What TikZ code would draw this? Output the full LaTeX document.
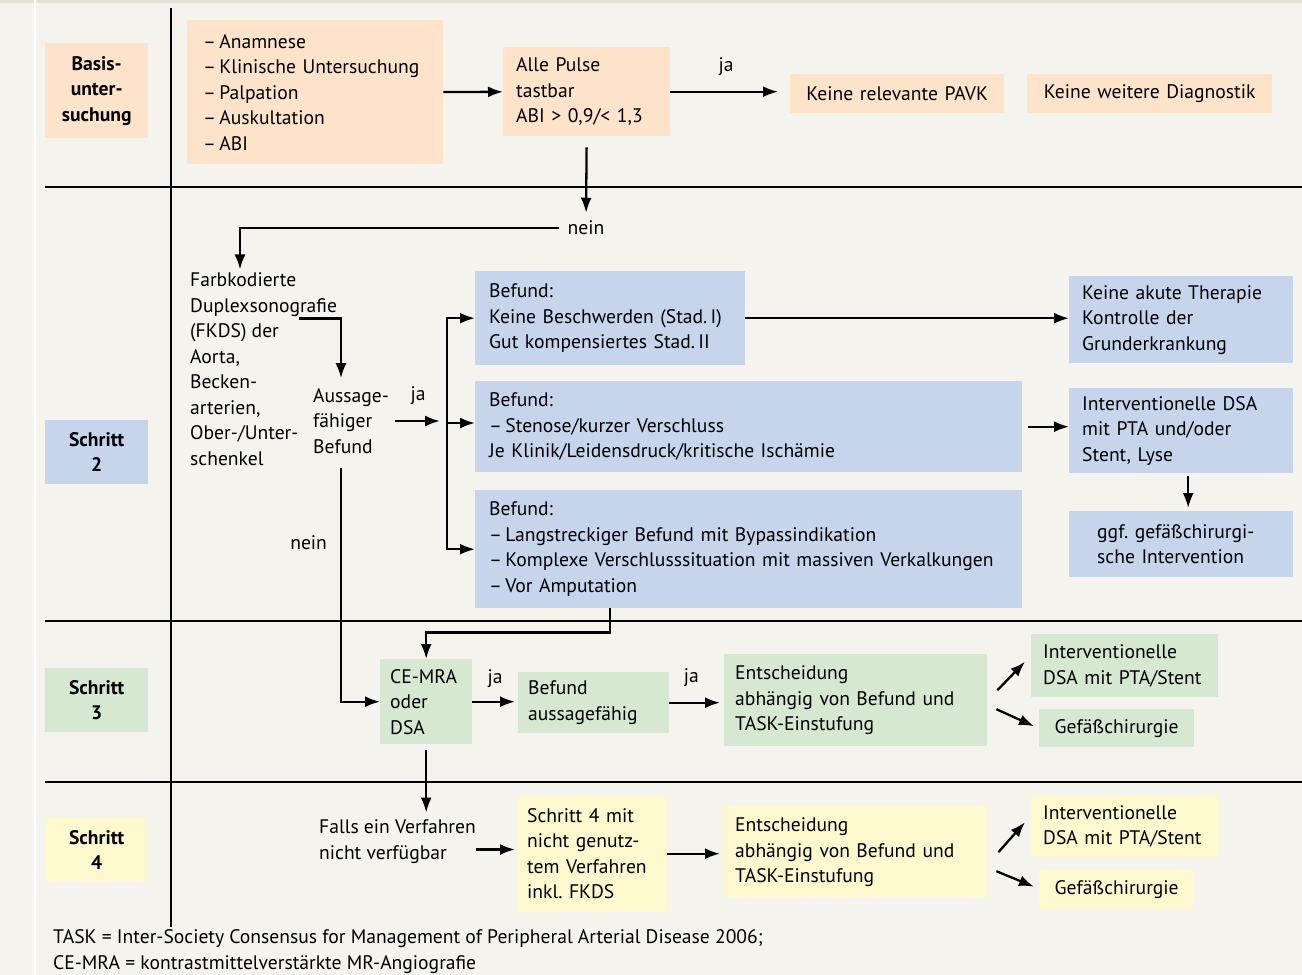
\documentclass[tikz,border=0pt]{standalone}
\usepackage{fontspec}
\setmainfont{PT Sans}
\usetikzlibrary{arrows.meta}
\frenchspacing

\definecolor{bgcream}{HTML}{F4F3ED}
\definecolor{bgstrip}{HTML}{E2E2D8}
\definecolor{peach}{HTML}{FDE3C9}
\definecolor{lightblue}{HTML}{C6D5EC}
\definecolor{lightgreen}{HTML}{D6E8D1}
\definecolor{lightyellow}{HTML}{FEF8CE}

\begin{document}
\begin{tikzpicture}[
  x=1pt, y=-1pt,
  every node/.style={font=\fontsize{19.6}{25.5}\selectfont, inner sep=0pt},
  box/.style={anchor=north west, inner xsep=12pt, inner ysep=0pt, align=left},
  orbox/.style={box, fill=peach},
  blbox/.style={box, fill=lightblue},
  grbox/.style={box, fill=lightgreen},
  yebox/.style={box, fill=lightyellow},
  lab/.style={anchor=north west, text width=103pt, align=center,
    font=\fontsize{19.6}{25.5}\selectfont\bfseries},
  txt/.style={anchor=west, align=left},
  jalab/.style={midway, yshift=25pt},
  arr/.style={-{Latex[length=15pt, width=11pt]}, line width=2.3pt},
  sep/.style={line width=2.5pt}
]
  % background
  \fill[bgcream] (0,0) rectangle (1302,975);
  \fill[bgstrip] (0,0) rectangle (1302,3);
  \fill[white] (34,0) rectangle (36,975);
  \useasboundingbox (0,0) rectangle (1302,975);

  % grid lines
  \draw[sep] (171,8) -- (171,927);
  \draw[sep] (45,187) -- (1302,187);
  \draw[sep] (45,621) -- (1302,621);
  \draw[sep] (45,782) -- (1302,782);

  % left column
  \node[lab, fill=peach, minimum height=95pt] (basis) at (45,43) {Basis-\\unter-\\suchung};
  \node[lab, fill=lightblue, minimum height=64pt] (schritt2) at (45,420) {Schritt\\2};
  \node[lab, fill=lightgreen, minimum height=64pt] (schritt3) at (45,668) {Schritt\\3};
  \node[lab, fill=lightyellow, minimum height=64pt] (schritt4) at (45,818) {Schritt\\4};

  % Basisuntersuchung
  \node[orbox, inner xsep=16pt, text width=224pt, minimum height=144pt] (liste) at (187,20)
    {–\,Anamnese\\–\,Klinische Untersuchung\\–\,Palpation\\–\,Auskultation\\–\,ABI};
  \node[orbox, inner xsep=13pt, text width=141pt, minimum height=89pt] (pulse) at (503,47)
    {Alle Pulse\\tastbar\\ABI > 0,9/< 1,3};
  \node[orbox, text width=190pt, align=center, minimum height=39pt] (pavk) at (790,74)
    {Keine relevante PAVK};
  \node[orbox, text width=221pt, align=center, minimum height=39pt] (keinediag) at (1027,74)
    {Keine weitere Diagnostik};

  % Schritt 2
  \node[txt, anchor=center] (nein1) at (586,228) {nein};
  \node[txt] (fkds) at (190,369) {Farbkodierte\\Duplexsonografie\\(FKDS) der\\Aorta,\\Becken-\\arterien,\\Ober-/Unter-\\schenkel};
  \node[txt] (aussage) at (313,421) {Aussage-\\fähiger\\Befund};
  \coordinate (split) at (447,423);

  \node[blbox, inner xsep=14pt, text width=242pt, minimum height=94pt] (befA) at (475,271)
    {Befund:\\Keine Beschwerden (Stad.\,I)\\Gut kompensiertes Stad.\,II};
  \node[blbox, inner xsep=14pt, text width=519pt, minimum height=91pt] (befB) at (475,381)
    {Befund:\\–\,Stenose/kurzer Verschluss\\Je Klinik/Leidensdruck/kritische Ischämie};
  \node[blbox, inner xsep=14pt, text width=519pt, minimum height=118pt] (befC) at (475,490)
    {Befund:\\–\,Langstreckiger Befund mit Bypassindikation\\–\,Komplexe Verschlusssituation mit massiven Verkalkungen\\–\,Vor Amputation};
  \node[blbox, inner xsep=13pt, text width=198pt, minimum height=87pt] (therapie) at (1069,276)
    {Keine akute Therapie\\Kontrolle der\\Grunderkrankung};
  \node[blbox, inner xsep=13pt, text width=198pt, minimum height=85pt] (interv) at (1069,388)
    {Interventionelle DSA\\mit PTA und/oder\\Stent, Lyse};
  \node[blbox, inner xsep=28pt, text width=168pt, minimum height=66pt] (gefchir) at (1069,511)
    {ggf. gefäßchirurgi-\\sche Intervention};

  % Schritt 3
  \node[grbox, inner xsep=10pt, text width=72pt, minimum height=85pt] (cemra) at (380,659)
    {CE-MRA\\oder\\DSA};
  \node[grbox, inner xsep=10pt, text width=131pt, minimum height=61pt] (befaus) at (518,672)
    {Befund\\aussagefähig};
  \node[grbox, inner xsep=11pt, text width=241pt, minimum height=92pt] (entsch3) at (724,654)
    {Entscheidung\\abhängig von Befund und\\TASK-Einstufung};
  \node[grbox, inner xsep=12pt, text width=163pt, minimum height=63pt] (interv3) at (1031,634)
    {Interventionelle\\DSA mit PTA/Stent};
  \node[grbox, text width=131pt, align=center, minimum height=38pt] (gef3) at (1039,709)
    {Gefäßchirurgie};

  % Schritt 4
  \node[txt] (falls) at (319,841.5) {Falls ein Verfahren\\nicht verfügbar};
  \node[yebox, inner xsep=10pt, text width=130pt, minimum height=117pt] (schritt4m) at (517,795)
    {Schritt 4 mit\\nicht genutz-\\tem Verfahren\\inkl. FKDS};
  \node[yebox, inner xsep=11pt, text width=241pt, minimum height=92pt] (entsch4) at (724,806)
    {Entscheidung\\abhängig von Befund und\\TASK-Einstufung};
  \node[yebox, inner xsep=12pt, text width=164pt, minimum height=62pt] (interv4) at (1031,795)
    {Interventionelle\\DSA mit PTA/Stent};
  \node[yebox, text width=131pt, align=center, minimum height=39pt] (gef4) at (1039,870)
    {Gefäßchirurgie};

  \node[txt] (footnote) at (53,951.5)
    {TASK = Inter-Society Consensus for Management of Peripheral Arterial Disease 2006;\\CE-MRA = kontrastmittelverstärkte MR-Angiografie};

  % connectors
  \draw[arr] (liste) -- (pulse);
  \draw[arr, shorten >=12pt] (pulse.east) -- (pulse.east -| pavk.west) node[jalab, xshift=-4pt] {ja};
  \draw[arr, shorten <=11pt, shorten >=8pt] (pulse.south) -- (nein1.north);
  \draw[arr, shorten <=8pt, shorten >=3pt] (nein1.west) -| ([xshift=50pt]fkds.north west);
  \draw[arr, shorten >=10pt] ([shift={(109pt,-46pt)}]fkds.north west) -| ([xshift=28pt]aussage.north west);

  \draw[arr, shorten <=6pt, shorten >=7pt] (aussage.east) -- (aussage.east -| split) node[jalab] {ja};
  \draw[arr] (split) |- (befA.west);
  \draw[arr] (split) -- (split -| befB.west);
  \draw[arr] (split) |- (befC.west);
  \draw[arr] (befA.east) -- (befA.east -| therapie.west);
  \draw[arr, shorten <=6pt] (befB.east) -- (befB.east -| interv.west);
  \draw[arr, shorten <=3pt, shorten >=3pt] ([xshift=7pt]interv.south) -- ([xshift=7pt]gefchir.north);

  \draw[arr, shorten <=14pt] ([xshift=-10pt]aussage.south) |- (cemra.west)
    node[pos=0.18, left=13pt] {nein};
  \draw[arr] ([xshift=135pt]befC.south west) -- ++(0,24) -| (cemra.north);

  \draw[arr, shorten >=3pt] (cemra.east) -- (cemra.east -| befaus.west) node[jalab, yshift=-2pt] {ja};
  \draw[arr, shorten >=4pt] (befaus.east) -- (befaus.east -| entsch3.west) node[jalab, pos=0.4] {ja};
  \draw[arr] ([shift={(10pt,10pt)}]entsch3.east) -- ([shift={(-6pt,4pt)}]interv3.west);
  \draw[arr] ([shift={(9pt,-9pt)}]entsch3.east) -- ([shift={(-5pt,2pt)}]gef3.west);

  \draw[arr, shorten <=6pt, shorten >=7pt] (cemra.south) -- (cemra.south |- falls.north);
  \draw[arr, shorten >=2pt] ([yshift=-8pt]falls.east) -- ([yshift=-8pt]falls.east -| schritt4m.west);
  \draw[arr, shorten >=4pt] (schritt4m.east) -- (schritt4m.east -| entsch4.west);
  \draw[arr] ([shift={(11pt,0pt)}]entsch4.east) -- ([shift={(-6pt,4pt)}]interv4.west);
  \draw[arr] ([shift={(9pt,-19pt)}]entsch4.east) -- ([shift={(-5pt,3pt)}]gef4.west);
\end{tikzpicture}
\end{document}
